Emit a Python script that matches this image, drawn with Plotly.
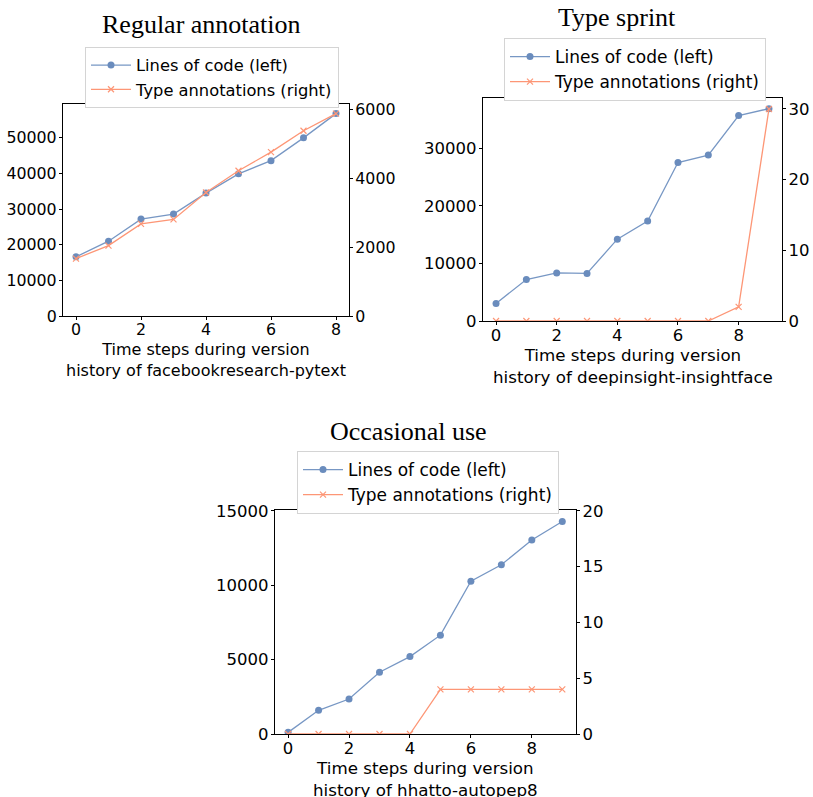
import plotly.graph_objects as go

W, H = 813, 797

# Regular annotation: facebookresearch-pytext
steps_pytext = list(range(9))
loc_pytext = [16600, 21000, 27200, 28600, 34500, 39900, 43600, 50000, 56800]
ann_pytext = [1665, 2040, 2670, 2800, 3580, 4210, 4750, 5370, 5865]

# Type sprint: deepinsight-insightface
steps_insight = list(range(10))
loc_insight = [3050, 7200, 8350, 8250, 14200, 17350, 27500, 28800, 35650, 36850]
ann_insight = [0, 0, 0, 0, 0, 0, 0, 0, 2, 30]

# Occasional use: hhatto-autopep8
steps_autopep8 = list(range(10))
loc_autopep8 = [110, 1590, 2350, 4150, 5200, 6640, 10270, 11370, 13030, 14280]
ann_autopep8 = [0, 0, 0, 0, 0, 4, 4, 4, 4, 4]

titles = ["Regular annotation", "Type sprint", "Occasional use"]
repos = ["facebookresearch-pytext", "deepinsight-insightface", "hhatto-autopep8"]

BLUE_LINE = "#7797c4"
BLUE_MARK = "#6a8cbd"
ORANGE = "#fd9676"
SANS = "DejaVu Sans"
SERIF = "Liberation Serif"


def px_x(v):
    return v / W


def px_y(v):
    return 1 - v / H


fig = go.Figure()

panels = [
    dict(steps=steps_pytext, loc=loc_pytext, ann=ann_pytext,
         xdom=(63, 349), ydom=(316, 104), xr=[-0.4, 8.4],
         yl=[0, 59500], yr=[0, 6145], dl=10000, dr=2000, fs=15.8,
         legend=(85, 47), title=(201, 24), xlab=360),
    dict(steps=steps_insight, loc=loc_insight, ann=ann_insight,
         xdom=(483, 782), ydom=(321, 98), xr=[-0.43, 9.43],
         yl=[0, 38700], yr=[0, 31.55], dl=10000, dr=10, fs=16.5,
         legend=(504, 38), title=(617, 18), xlab=366),
    dict(steps=steps_autopep8, loc=loc_autopep8, ann=ann_autopep8,
         xdom=(275, 576), ydom=(734, 510), xr=[-0.43, 9.45],
         yl=[0, 15050], yr=[0, 20.07], dl=5000, dr=5, fs=16.5,
         legend=(297, 451), title=(409, 431), xlab=779),
]

layout = dict(
    width=W, height=H, margin=dict(l=0, r=0, t=0, b=0),
    paper_bgcolor="white", plot_bgcolor="white",
    font=dict(family=SANS, color="black"),
    annotations=[],
)

for i, p in enumerate(panels):
    n = i + 1
    xa = "x" if n == 1 else f"x{n}"
    ya_l = 2 * n - 1
    ya_r = 2 * n
    yl_name = "y" if ya_l == 1 else f"y{ya_l}"
    yr_name = f"y{ya_r}"
    leg = "legend" if n == 1 else f"legend{n}"

    fig.add_trace(go.Scatter(
        x=p["steps"], y=p["loc"], xaxis=xa, yaxis=yl_name,
        mode="lines+markers", name="Lines of code (left)",
        line=dict(color=BLUE_LINE, width=1.3),
        marker=dict(symbol="circle", size=7, color=BLUE_MARK),
        legend=leg,
    ))
    fig.add_trace(go.Scatter(
        x=p["steps"], y=p["ann"], xaxis=xa, yaxis=yr_name,
        mode="lines+markers", name="Type annotations (right)",
        line=dict(color=ORANGE, width=1.3),
        marker=dict(symbol="x-thin", size=6, color=ORANGE,
                    line=dict(color=ORANGE, width=1.2)),
        legend=leg,
    ))

    tickfont = dict(family=SANS, size=p["fs"], color="black")
    axis_common = dict(showgrid=False, zeroline=False, showline=True,
                       linecolor="black", linewidth=1.3, ticks="outside",
                       ticklen=3, tickwidth=1.2, tickcolor="black",
                       tickfont=tickfont, tickformat="d", automargin=False)

    xkey = "xaxis" if n == 1 else f"xaxis{n}"
    ylkey = "yaxis" if ya_l == 1 else f"yaxis{ya_l}"
    yrkey = f"yaxis{ya_r}"

    layout[xkey] = dict(
        axis_common, domain=[px_x(p["xdom"][0]), px_x(p["xdom"][1])],
        anchor=yl_name, range=p["xr"], dtick=2, tick0=0, mirror=True,
        ticklabelstandoff=-4,
    )
    layout[ylkey] = dict(
        axis_common, domain=[px_y(p["ydom"][0]), px_y(p["ydom"][1])],
        anchor=xa, range=p["yl"], dtick=p["dl"], tick0=0, side="left",
        ticklabelstandoff=-1,
    )
    layout[yrkey] = dict(
        axis_common, anchor=xa, overlaying=yl_name, side="right",
        range=p["yr"], dtick=p["dr"], tick0=0, ticklabelstandoff=-1,
    )
    layout[leg] = dict(
        x=px_x(p["legend"][0]), y=px_y(p["legend"][1]),
        xanchor="left", yanchor="top", itemwidth=40,
        bgcolor="white", bordercolor="#d4d4d4", borderwidth=1,
        font=dict(family=SANS, size=p["fs"] + 0.5, color="black"),
    )
    layout["annotations"].append(dict(
        text=titles[i], xref="paper", yref="paper",
        x=px_x(p["title"][0]), y=px_y(p["title"][1]),
        xanchor="center", yanchor="middle", showarrow=False,
        font=dict(family=SERIF, size=26, color="black"),
    ))
    # two-line x-axis label, centred under the plot area
    xmid = px_x((p["xdom"][0] + p["xdom"][1]) / 2)
    layout["annotations"].append(dict(
        text=f"Time steps during version<br>history of {repos[i]}",
        xref="paper", yref="paper", x=xmid, y=px_y(p["xlab"]),
        xanchor="center", yanchor="middle", showarrow=False,
        font=dict(family=SANS, size=p["fs"] + 0.2, color="black"),
    ))

fig.update_layout(**layout)
fig.write_html("out.html")
